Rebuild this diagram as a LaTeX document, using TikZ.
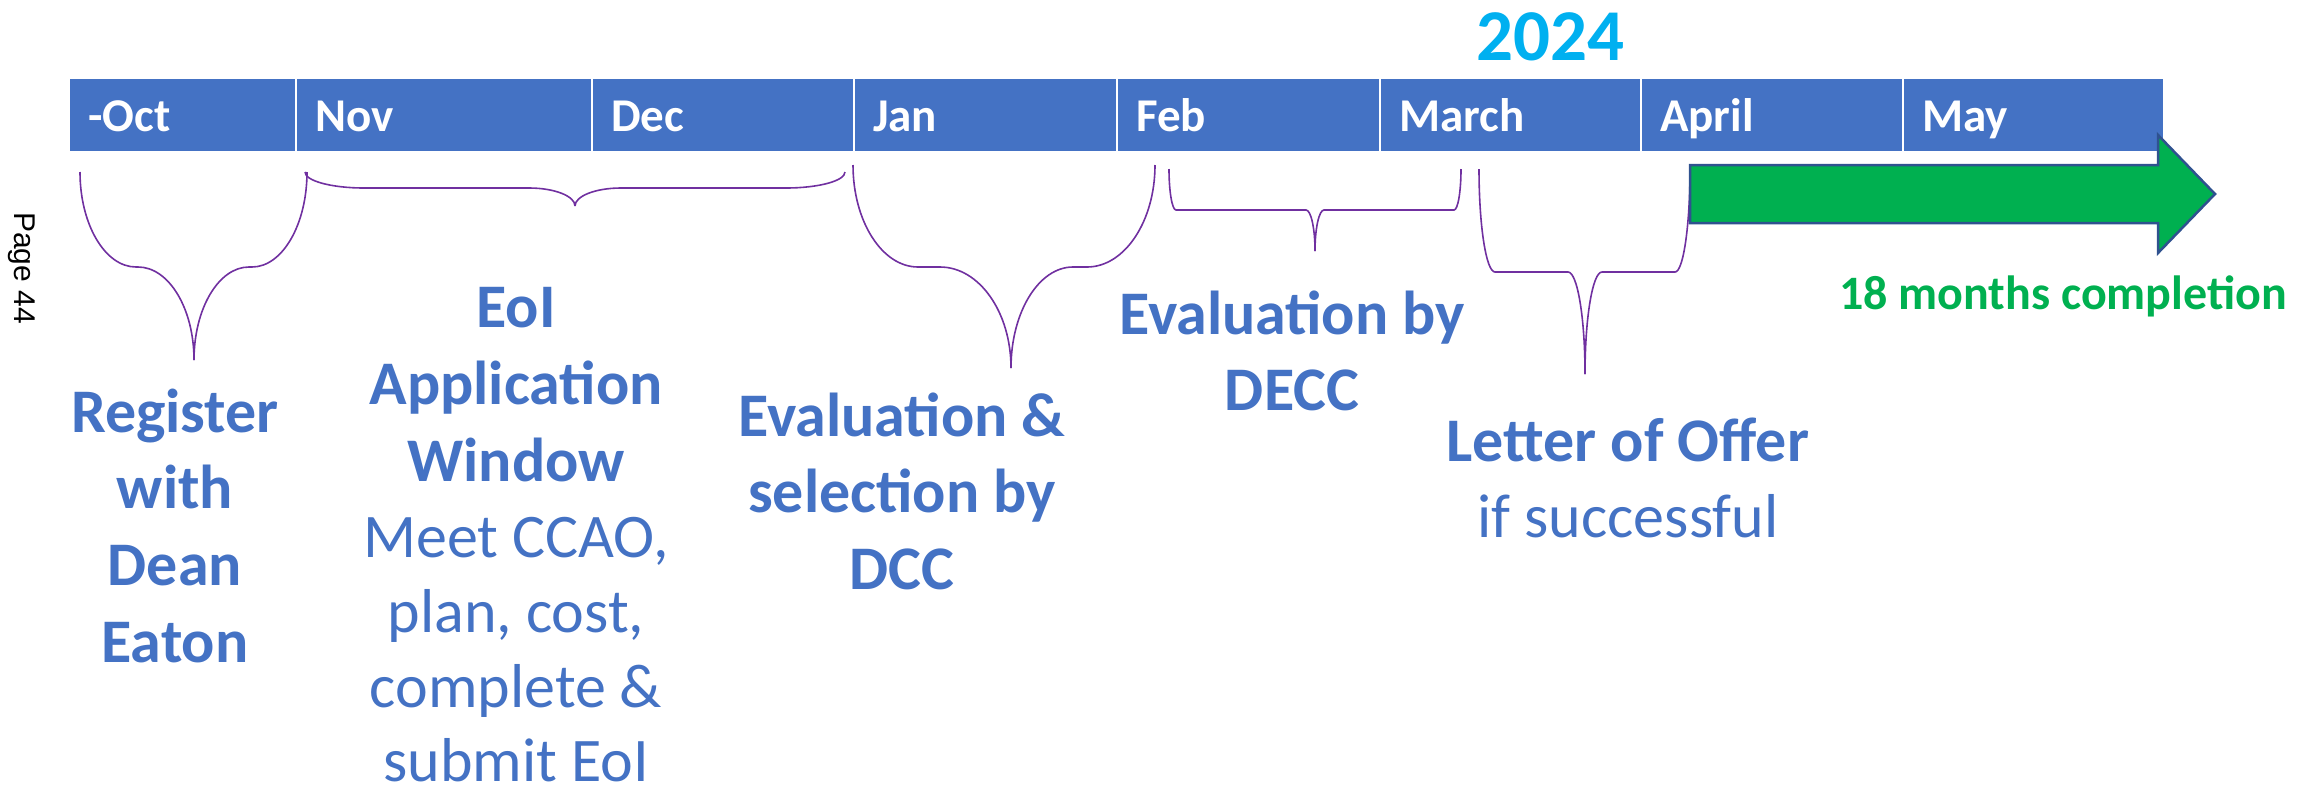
\documentclass[tikz,border=0pt]{standalone}
\usepackage{fontspec}
\setmainfont{Carlito}
\newfontfamily\arialfont{Liberation Sans}
\definecolor{barblue}{HTML}{4472C4}
\definecolor{txtblue}{HTML}{4472C4}
\definecolor{yearblue}{HTML}{00B0F0}
\definecolor{bracepurple}{HTML}{7030A0}
\definecolor{arrowgreen}{HTML}{00B050}
\definecolor{arrowedge}{HTML}{2F528F}
% half of a curly brace: #1 end x, #2 tip x, #3 top y, #4 shoulder y, #5 tip y, #6 outer radius (signed), #7 inner radius (signed)
\newcommand\halfbrace[7]{%
  \draw[bracestyle] (#1,-#3) .. controls (#1,{-(#3+0.5523*(#4-#3))}) and ({#1+0.4477*#6},-#4) .. ({#1+#6},-#4)
    -- ({#2-#7},-#4) .. controls ({#2-0.4477*#7},-#4) and (#2,{-(#5-0.5523*(#5-#4))}) .. (#2,-#5);%
}
\begin{document}
\begin{tikzpicture}[x=1pt,y=1pt,
  cell/.style={anchor=north west, draw=white, line width=2pt, fill=barblue, minimum height=74pt, inner sep=0pt, outer sep=0pt},
  mon/.style={anchor=base west, inner sep=0pt, text=white, font=\fontsize{47}{56}\selectfont\bfseries},
  big/.style={anchor=base, inner sep=0pt, text=txtblue, font=\fontsize{62}{74}\selectfont\bfseries},
  bigr/.style={anchor=base, inner sep=0pt, text=txtblue, font=\fontsize{62}{74}\selectfont},
  bracestyle/.style={draw=bracepurple, line width=1.6pt},
]
\useasboundingbox (0,0) rectangle (2318,-793);

% month bar
\node[cell, minimum width=227pt] (oct) at (69,-78) {};
\node[cell, minimum width=296pt] (nov) at (296,-78) {};
\node[cell, minimum width=262pt] (dec) at (592,-78) {};
\node[cell, minimum width=263pt] (jan) at (854,-78) {};
\node[cell, minimum width=263pt] (feb) at (1117,-78) {};
\node[cell, minimum width=261pt] (mar) at (1380,-78) {};
\node[cell, minimum width=262pt] (apr) at (1641,-78) {};
\node[cell, minimum width=261pt] (may) at (1903,-78) {};

\node[mon] (octl) at (88,-131) {-Oct};
\node[mon] (novl) at (315,-131) {Nov};
\node[mon] (decl) at (611,-131) {Dec};
\node[mon] (janl) at (873,-131) {Jan};
\node[mon] (febl) at (1136,-131) {Feb};
\node[mon] (marl) at (1399,-131) {March};
\node[mon] (aprl) at (1660,-131) {April};
\node[mon] (mayl) at (1922,-131) {May};

% year
\node[anchor=base, inner sep=0pt, text=yearblue, font=\fontsize{73}{88}\selectfont\bfseries] (year) at (1550,-60) {2024};

% page mark
\node[rotate=-90, inner sep=0pt, font=\arialfont\fontsize{30}{36}\selectfont] (page) at (22,-268) {Page 44};

% braces
\halfbrace{80}{194}{172}{267}{360}{56}{56}
\halfbrace{307}{194}{172}{267}{360}{-55}{-55}
\halfbrace{305}{575}{172}{188}{206}{59}{46}
\halfbrace{845}{575}{172}{188}{206}{-59}{-46}
\halfbrace{853}{1011}{165}{267}{368}{65}{71}
\halfbrace{1155}{1011}{165}{267}{368}{-68}{-62}
\halfbrace{1169}{1315}{169}{210}{251}{7}{9}
\halfbrace{1461}{1315}{169}{210}{251}{-7}{-9}
\halfbrace{1479}{1585}{169}{272}{374}{16}{17}
\halfbrace{1690}{1585}{169}{272}{374}{-15}{-17}

% green arrow
\draw[fill=arrowgreen, draw=arrowedge, line width=2.5pt, line join=miter]
  (1690,-165) -- (2158,-165) -- (2158,-135) -- (2215,-194) -- (2158,-253) -- (2158,-223) -- (1690,-223) -- cycle;
\node[anchor=base, inner sep=0pt, text=arrowgreen, font=\fontsize{48}{58}\selectfont\bfseries] (done) at (2063,-309) {18 months completion};

% texts
\node[big] (reg1) at (175,-432) {Register};
\node[big] (reg2) at (175,-508) {with};
\node[big] (reg3) at (175,-585) {Dean};
\node[big] (reg4) at (175,-662) {Eaton};

\node[big] (eoi1) at (516,-327) {EoI};
\node[big] (eoi2) at (516,-404) {Application};
\node[big] (eoi3) at (516,-481) {Window};
\node[bigr] (eoi4) at (516,-557) {Meet CCAO,};
\node[bigr] (eoi5) at (516,-632) {plan, cost,};
\node[bigr] (eoi6) at (516,-707) {complete \&};
\node[bigr] (eoi7) at (516,-781) {submit EoI};

\node[big] (sel1) at (902,-436) {Evaluation \&};
\node[big] (sel2) at (902,-512) {selection by};
\node[big] (sel3) at (902,-589) {DCC};

\node[big] (decc1) at (1292,-334) {Evaluation by};
\node[big] (decc2) at (1292,-410) {DECC};

\node[big] (off1) at (1628,-461) {Letter of Offer};
\node[bigr] (off2) at (1628,-537) {if successful};
\end{tikzpicture}
\end{document}
